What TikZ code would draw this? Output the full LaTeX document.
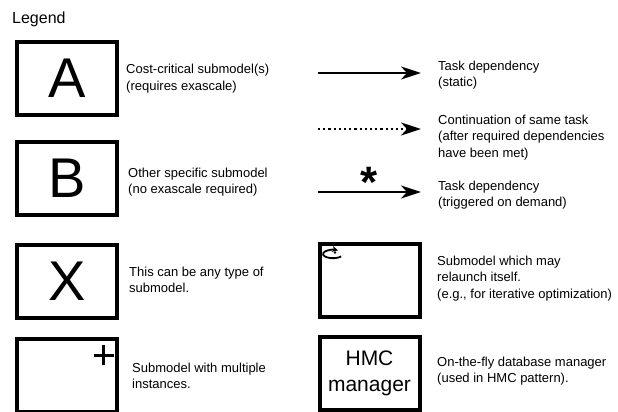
\documentclass[tikz,border=0pt]{standalone}
\usepackage{fontspec}
\setmainfont{Liberation Sans}
\usetikzlibrary{arrows.meta}
\tikzset{
  box/.style={draw=black, line width=4pt, minimum width=100pt, minimum height=73pt, inner sep=0pt},
  bigletter/.style={font=\fontsize{56}{60}\selectfont},
  desc/.style={anchor=base west, align=left, inner sep=0pt, font=\fontsize{13}{16.5}\selectfont},
  legarrow/.style={line width=2.3pt, -{Stealth[length=20pt,width=13pt,inset=6pt]}},
}
\begin{document}
\begin{tikzpicture}[x=1pt,y=-1pt]
\useasboundingbox (0,0) rectangle (618,412);
\node[anchor=base west, inner sep=0pt, font=\fontsize{16}{18}\selectfont] (legend) at (12,24) {Legend};

% left column
\node[box, bigletter] (boxA) at (67,78.5) {A};
\node[desc] (txtA) at (126,90) {Cost-critical submodel(s)\\(requires exascale)};

\node[box, bigletter] (boxB) at (67,178.5) {B};
\node[desc] (txtB) at (128,193.5) {Other specific submodel\\(no exascale required)};

\node[box, bigletter] (boxX) at (67,281) {X};
\node[desc] (txtX) at (129,292.5) {This can be any type of\\submodel.};

\node[box] (boxP) at (67,375) {};
\draw[line width=3pt] (93.5,355) -- (113.5,355);
\draw[line width=3pt] (103.5,345) -- (103.5,365);
\node[desc] (txtP) at (132,388.5) {Submodel with multiple\\instances.};

% right column arrows
\coordinate (s1) at (318,73);
\coordinate (e1) at (421,73);
\draw[legarrow] (s1) -- (e1);
\node[desc] (txt1) at (438,86.5) {Task dependency\\(static)};

\coordinate (s2) at (318,129);
\coordinate (e2) at (421,129);
\draw[legarrow, dash pattern=on 2.2pt off 3pt] (s2) -- (e2);
\node[desc] (txt2) at (438,157) {Continuation of same task\\(after required dependencies\\have been met)};

\coordinate (s3) at (318,192);
\coordinate (e3) at (421,192);
\draw[legarrow] (s3) -- (e3);
\node[inner sep=0pt, font=\bfseries\fontsize{44}{44}\selectfont] (star) at (369,182) {*};
\node[desc] (txt3) at (438,206.5) {Task dependency\\(triggered on demand)};

% relaunch box
\node[box] (boxR) at (369.5,280.5) {};
\draw[line width=1.8pt, -{Stealth[length=6pt,width=6pt]}]
  (333,254) ++(35:10 and 4.2) arc[start angle=35, end angle=300, x radius=10, y radius=4.2];
\fill (335,252.5) circle (1.4pt);
\node[desc] (txtR) at (437,298) {Submodel which may\\relaunch itself.\\(e.g., for iterative optimization)};

% HMC manager
\node[box, align=center, font=\fontsize{21}{26}\selectfont] (boxH) at (369.5,373) {HMC\\manager};
\node[desc] (txtH) at (437,382.5) {On-the-fly database manager\\(used in HMC pattern).};
\end{tikzpicture}
\end{document}
